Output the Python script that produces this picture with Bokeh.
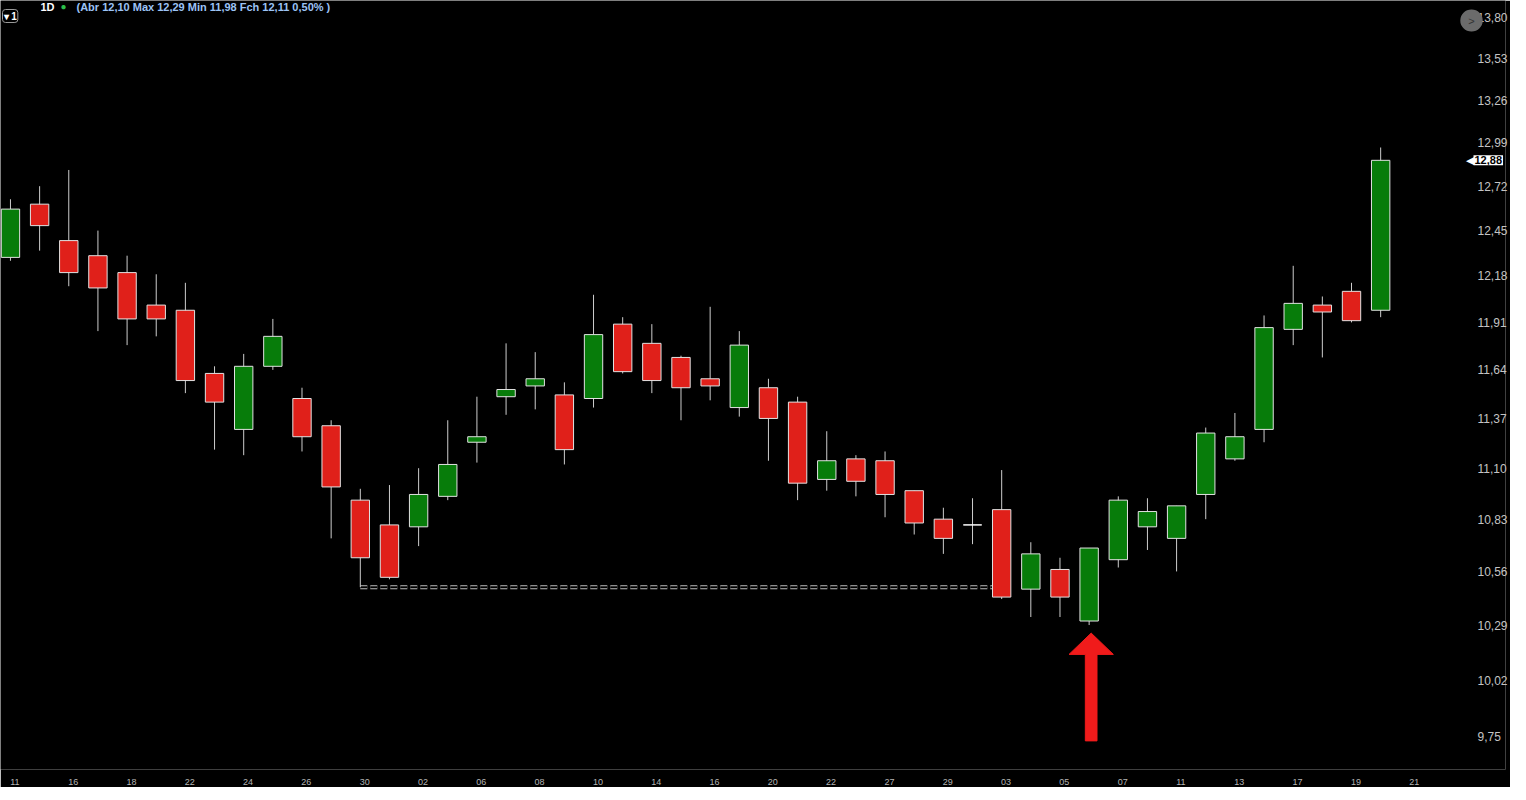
from bokeh.plotting import figure
from bokeh.models import Range1d, FixedTicker, CustomJSTickFormatter, Label, ColumnDataSource
from bokeh.embed import file_html
from bokeh.resources import INLINE

# ---------------- data ----------------
tick_labels = ["11", "16", "18", "22", "24", "26", "30", "02", "06", "08", "10", "14", "16",
               "20", "22", "27", "29", "03", "05", "07", "11", "13", "17", "19", "21"]

opens = [12.29, 12.61, 12.39, 12.30, 12.20, 12.01, 11.98, 11.62, 11.31, 11.66,
         11.48, 11.33, 10.93, 10.80, 10.79, 10.95, 11.24, 11.49, 11.55, 11.50,
         11.48, 11.90, 11.79, 11.71, 11.59, 11.43, 11.54, 11.46, 11.04, 11.15,
         11.14, 10.98, 10.83, 10.80, 10.88, 10.47, 10.57, 10.31, 10.62, 10.79,
         10.73, 10.96, 11.15, 11.31, 11.87, 12.01, 12.09, 11.98]
highs = [12.64, 12.72, 12.82, 12.45, 12.30, 12.19, 12.14, 11.66, 11.73, 11.93,
         11.54, 11.36, 10.99, 11.01, 11.10, 11.36, 11.49, 11.79, 11.74, 11.57,
         12.07, 11.94, 11.90, 11.72, 12.00, 11.86, 11.59, 11.49, 11.30, 11.17,
         11.19, 10.98, 10.89, 10.94, 11.09, 10.71, 10.63, 10.68, 10.95, 10.94,
         10.90, 11.32, 11.40, 11.95, 12.24, 12.06, 12.14, 12.96]
lows = [12.27, 12.33, 12.12, 11.86, 11.78, 11.83, 11.51, 11.20, 11.17, 11.64,
        11.19, 10.73, 10.48, 10.52, 10.69, 10.93, 11.13, 11.39, 11.42, 11.12,
        11.43, 11.62, 11.51, 11.36, 11.47, 11.38, 11.14, 10.93, 10.98, 10.95,
        10.84, 10.75, 10.65, 10.70, 10.42, 10.33, 10.33, 10.29, 10.58, 10.67,
        10.56, 10.83, 11.14, 11.24, 11.78, 11.71, 11.91, 11.94]
closes = [12.58, 12.48, 12.20, 12.11, 11.93, 11.93, 11.58, 11.46, 11.66, 11.83,
          11.27, 11.00, 10.63, 10.53, 10.96, 11.12, 11.27, 11.53, 11.59, 11.20,
          11.84, 11.63, 11.58, 11.54, 11.55, 11.78, 11.37, 11.02, 11.14, 11.03,
          10.96, 10.81, 10.73, 10.80, 10.43, 10.65, 10.43, 10.68, 10.93, 10.87,
          10.90, 11.29, 11.27, 11.88, 12.02, 11.97, 11.92, 12.88]

price_ticks = [9.75, 10.02, 10.29, 10.56, 10.83, 11.10, 11.37, 11.64, 11.91,
               12.18, 12.45, 12.72, 12.99, 13.26, 13.53, 13.80]

support_level = 10.48
support_from, support_to = 12, 34
signal_index = 37
arrow_tip, arrow_neck, arrow_tail = 10.25, 10.145, 9.73
last_close_label = "12,88"
header_text = "(Abr 12,10 Max 12,29 Min 11,98 Fch 12,11 0,50% )"

# ---------------- styling ----------------
RED = "#e0201a"
GREEN = "#077c0a"
WICK = "#cdcdcd"
EDGE = "#e2e2e2"
FONT = "Liberation Sans"

W, FRAME_H = 1510, 769
PX_PER_BAR = 29.25
x_start = -10 / PX_PER_BAR

n = len(opens)
idx = list(range(n))
fill, edge, tops, bottoms = [], [], [], []
for o, c in zip(opens, closes):
    if c > o:
        fill.append(GREEN); edge.append(EDGE)
    elif c < o:
        fill.append(RED); edge.append(EDGE)
    else:
        fill.append("#ffffff"); edge.append("#ffffff")
    tops.append(max(o, c))
    bottoms.append(min(o, c))

src = ColumnDataSource(dict(x=idx, o=opens, h=highs, l=lows, c=closes,
                            top=tops, bottom=bottoms, fill=fill, edge=edge))

p = figure(width=W, frame_height=FRAME_H,
           x_range=Range1d(x_start, x_start + W / PX_PER_BAR),
           y_range=Range1d(9.5964, 13.9138),
           y_axis_type="log", y_axis_location="right",
           output_backend="svg", toolbar_location=None,
           background_fill_color="black", border_fill_color="black",
           outline_line_color=None,
           min_border_left=0, min_border_top=0, min_border_right=0, min_border_bottom=0)

p.grid.visible = False

# support dashed line (double thin look)
p.segment(x0=[support_from], y0=[support_level], x1=[support_to], y1=[support_level],
          line_color="#bdbdbd", line_width=4, line_dash="7 3")
p.segment(x0=[support_from], y0=[support_level], x1=[support_to], y1=[support_level],
          line_color="black", line_width=2, line_dash="7 3")

# candles
p.segment(x0="x", y0="l", x1="x", y1="h", source=src, line_color=WICK, line_width=1)
p.vbar(x="x", width=0.63, top="top", bottom="bottom", source=src,
       fill_color="fill", line_color="edge", line_width=1)

# signal arrow
ax = signal_index + 0.07
p.patch(x=[ax - 0.2, ax - 0.2, ax - 0.76, ax, ax + 0.76, ax + 0.2, ax + 0.2],
        y=[arrow_tail, arrow_neck, arrow_neck, arrow_tip, arrow_neck, arrow_neck, arrow_tail],
        fill_color="#f01b1b", line_color="#f01b1b", line_width=1)

# axes
xa = p.xaxis[0]
xa.ticker = FixedTicker(ticks=[2 * i + 0.15 for i in range(len(tick_labels))])
xa.formatter = CustomJSTickFormatter(args=dict(labels=tick_labels),
                                     code="const k = Math.round((tick - 0.15) / 2); return labels[k] || '';")
xa.axis_line_color = None
xa.major_tick_line_color = None
xa.minor_tick_line_color = None
xa.major_label_text_color = "#b4b4b4"
xa.major_label_text_font_size = "9px"
xa.major_label_text_font = FONT
xa.major_label_standoff = 3

ya = p.yaxis[0]
ya.ticker = FixedTicker(ticks=price_ticks)
ya.formatter = CustomJSTickFormatter(code="return tick.toFixed(2).replace('.', ',');")
ya.axis_line_color = None
ya.major_tick_line_color = None
ya.major_tick_out = 0
ya.major_tick_in = 0
ya.minor_tick_line_color = None
ya.major_label_text_color = "#c4c4c4"
ya.major_label_text_font_size = "12px"
ya.major_label_text_font = FONT
ya.major_label_standoff = -28

# header
p.add_layout(Label(x=40, y=FRAME_H, x_units="screen", y_units="screen", text="1D",
                   text_color="white", text_font=FONT, text_font_size="11px",
                   text_font_style="bold", text_baseline="top"))
p.add_layout(Label(x=60, y=FRAME_H, x_units="screen", y_units="screen", text="●",
                   text_color="#2bbf4a", text_font_size="10px", text_baseline="top"))
p.add_layout(Label(x=76, y=FRAME_H, x_units="screen", y_units="screen", text=header_text,
                   text_color="#9cc3f5", text_font=FONT, text_font_size="11px",
                   text_font_style="bold", text_baseline="top"))
p.add_layout(Label(x=2, y=FRAME_H - 9, x_units="screen", y_units="screen", text="▾ 1",
                   text_color="white", text_font=FONT, text_font_size="10px",
                   text_font_style="bold", text_baseline="top",
                   border_line_color="#9a9a9a", border_radius=3, padding=1,
                   background_fill_color="black"))

# grey nav button
p.add_layout(Label(x=1471, y=FRAME_H - 20, x_units="screen", y_units="screen", text=">",
                   text_color="#333333", text_font=FONT, text_font_size="11px",
                   text_align="center", text_baseline="middle",
                   background_fill_color="#6b6b6b", border_radius=11,
                   padding=dict(left=8, right=8, top=5, bottom=5)))

# last price tag
p.add_layout(Label(x=1465, y=closes[-1], x_units="screen", y_units="data", text="◀",
                   text_color="white", text_font_size="11px",
                   text_align="left", text_baseline="middle"))
p.add_layout(Label(x=1473, y=closes[-1], x_units="screen", y_units="data",
                   text=last_close_label, text_color="black", text_font=FONT,
                   text_font_size="11px", text_font_style="bold",
                   text_align="left", text_baseline="middle",
                   background_fill_color="white", padding=1))

open("out.html", "w").write(file_html(p, INLINE))
